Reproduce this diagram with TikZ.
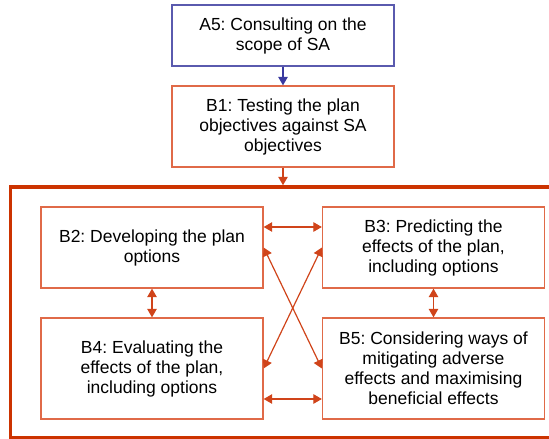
\documentclass[tikz,border=0pt]{standalone}
\usepackage{fontspec}
\setmainfont{Liberation Sans}
\usetikzlibrary{arrows.meta}
\definecolor{boxred}{HTML}{E06A48}
\definecolor{framered}{HTML}{CC3300}
\definecolor{arrred}{HTML}{D0441A}
\definecolor{boxblue}{HTML}{5A5AAE}
\definecolor{arrblue}{HTML}{3A3AA0}
\tikzset{
  x=1pt, y=-1pt,
  stepbox/.style={draw=boxred, line width=1.3pt, fill=white, minimum width=222pt,
    inner sep=0pt, align=center, font=\fontsize{17.5}{20}\selectfont\frenchspacing},
  bluebox/.style={stepbox, draw=boxblue},
  tipr/.tip={Triangle[length=8.5pt,width=9.5pt]},
  redarr/.style={draw=arrred, line width=1.2pt, -tipr},
  bothred/.style={draw=arrred, line width=1.2pt, tipr-tipr},
  bluearr/.style={draw=arrblue, line width=1.2pt, -tipr},
}
\begin{document}
\begin{tikzpicture}
\useasboundingbox (0,0) rectangle (549,439);
\clip (0,0) rectangle (549,439);
\node[draw=framered, line width=3.5pt, minimum width=560pt, minimum height=250.5pt, inner sep=0pt] (frame) at (290.5,312.25) {};
\node[bluebox, minimum height=61pt] (A5) at (283,35.5) {A5: Consulting on the\\scope of SA};
\node[stepbox, minimum height=81pt] (B1) at (283,126.5) {B1: Testing the plan\\objectives against SA\\objectives};
\node[stepbox, minimum height=81pt] (B2) at (152,247.5) {B2: Developing the plan\\options};
\node[stepbox, minimum height=81pt] (B3) at (433.5,247.5) {B3: Predicting the\\effects of the plan,\\including options};
\node[stepbox, minimum height=101pt] (B4) at (152,368.5) {B4: Evaluating the\\effects of the plan,\\including options};
\node[stepbox, minimum height=101pt] (B5) at (433.5,368.5) {B5: Considering ways of\\mitigating adverse\\effects and maximising\\beneficial effects};
\draw[bluearr] (A5.south) -- (B1.north);
\draw[redarr] (B1.south) -- (B1.south |- frame.north);
\draw[bothred] ([yshift=20.5pt]B2.east) -- ([yshift=20.5pt]B3.west);
\draw[bothred] ([yshift=-30.5pt]B4.east) -- ([yshift=-30.5pt]B5.west);
\draw[bothred] (B2.south) -- (B4.north);
\draw[bothred] (B3.south) -- (B5.north);
\draw[bothred] (B2.east) -- (B5.west);
\draw[bothred] (B3.west) -- (B4.east);
\end{tikzpicture}
\end{document}
